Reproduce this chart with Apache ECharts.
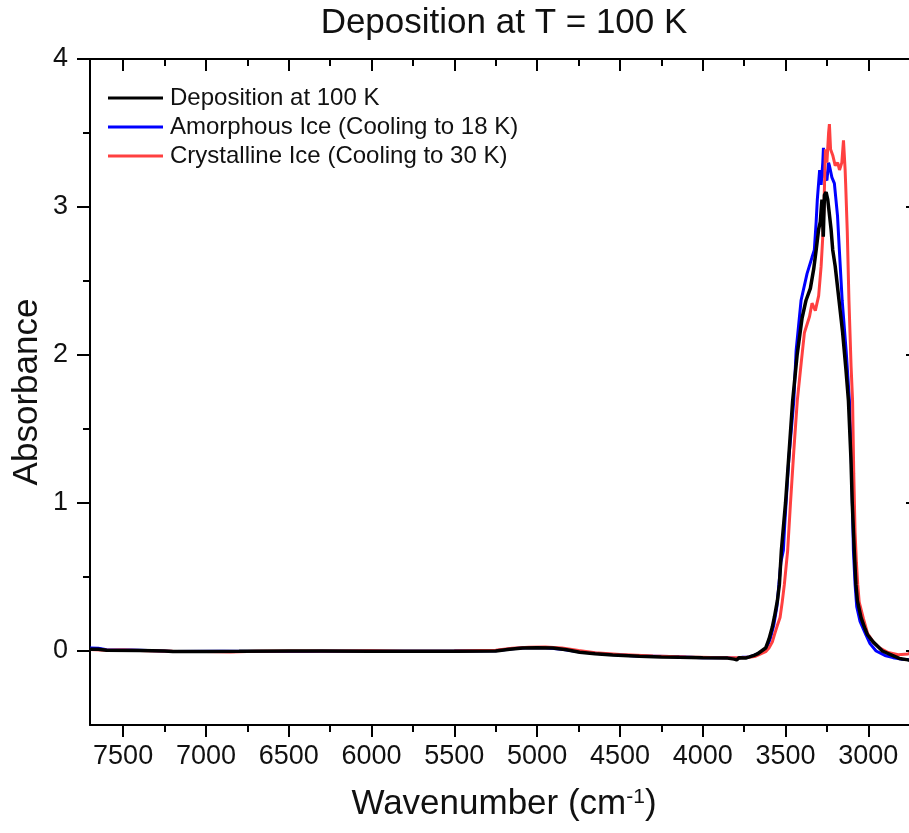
<!DOCTYPE html>
<html>
<head>
<meta charset="utf-8">
<script src="https://cdn.jsdelivr.net/npm/echarts@6/dist/echarts.min.js"></script>
<style>
html,body{margin:0;padding:0;background:#fff;overflow:hidden;}
#chart{width:927px;height:833px;}
</style>
</head>
<body>
<div id="chart"></div>
<script>
// ---- Data ----
const titleText = 'Deposition at T = 100 K';
const seriesNames = ['Deposition at 100 K', 'Amorphous Ice (Cooling to 18 K)', 'Crystalline Ice (Cooling to 30 K)'];
const xMajorTicks = [3000, 3500, 4000, 4500, 5000, 5500, 6000, 6500, 7000, 7500];
const xMinorTicks = [2750, 3250, 3750, 4250, 4750, 5250, 5750, 6250, 6750, 7250];
const yMajorTicks = [0, 1, 2, 3, 4];
const yMinorTicks = [0.5, 1.5, 2.5, 3.5];

const depX = [7700,7650,7600,7400,7250,7200,7000,6800,6500,6300,6000,5800,5500,5250,5166,5088,5000,4905,4822,4743,4650,4544,4382,4250,4141,4000,3850,3810,3795,3780,3740,3718,3690,3670,3645,3620,3600,3580,3567,3549,3537,3525,3500,3475,3457,3430,3400,3376,3350,3330,3315,3300,3290,3280,3272,3265,3255,3245,3235,3225,3215,3200,3190,3170,3155,3135,3120,3105,3097,3085,3075,3066,3044,3020,3005,2970,2933,2915,2855,2813,2760,2700];
const depY = [0.012,0.012,0.005,0.003,0.0,-0.003,-0.003,-0.002,0.0,0.0,-0.002,-0.002,-0.001,0.0,0.012,0.02,0.022,0.02,0.008,-0.008,-0.018,-0.027,-0.035,-0.04,-0.043,-0.046,-0.048,-0.055,-0.06,-0.045,-0.047,-0.04,-0.03,-0.02,0.0,0.02,0.08,0.16,0.23,0.34,0.45,0.68,1.0,1.4,1.69,2.0,2.25,2.37,2.45,2.58,2.71,2.85,2.9,3.05,2.8,3.08,3.1,3.05,2.95,2.85,2.71,2.6,2.5,2.3,2.15,1.9,1.69,1.3,1.0,0.68,0.45,0.34,0.226,0.15,0.11,0.06,0.02,0.0,-0.03,-0.05,-0.06,-0.065];

const amoX = [7700,7650,7600,7450,7300,7200,6900,6600,6400,6300,6000,5500,5250,5150,5050,4950,4850,4750,4600,4400,4200,4000,3850,3790,3760,3720,3690,3660,3635,3610,3590,3570,3552,3540,3528,3513,3505,3480,3450,3436,3406,3370,3340,3326,3315,3308,3294,3285,3275,3271,3262,3250,3240,3235,3220,3205,3186,3175,3158,3134,3114,3100,3090,3080,3070,3050,3015,2990,2953,2900,2850,2800,2700];
const amoY = [0.02,0.018,0.008,0.006,0.002,-0.003,-0.002,-0.003,-0.004,-0.001,-0.001,0.0,0.002,0.015,0.024,0.022,0.012,-0.005,-0.02,-0.033,-0.038,-0.045,-0.046,-0.05,-0.042,-0.04,-0.03,-0.015,0.0,0.03,0.09,0.18,0.3,0.45,0.6,0.68,0.85,1.3,1.69,2.03,2.37,2.55,2.66,2.71,2.9,3.05,3.25,3.15,3.3,3.4,3.2,3.18,3.3,3.28,3.2,3.16,2.94,2.71,2.37,2.03,1.69,1.2,0.68,0.45,0.3,0.2,0.11,0.05,0.0,-0.03,-0.045,-0.055,-0.06];

const cryX = [7700,7600,7500,7350,7200,7000,6850,6700,6500,6200,6000,5800,5500,5250,5150,5050,4950,4850,4750,4650,4500,4300,4100,3950,3850,3780,3720,3680,3650,3620,3600,3580,3567,3550,3533,3520,3507,3487,3470,3450,3429,3405,3386,3355,3340,3320,3300,3285,3276,3268,3259,3250,3240,3235,3228,3215,3200,3185,3174,3160,3150,3145,3140,3137,3127,3117,3104,3095,3088,3080,3072,3064,3055,3030,3005,2970,2930,2880,2820,2760,2740,2700];
const cryY = [0.01,0.005,0.006,0.002,-0.002,-0.004,-0.006,-0.002,0.0,0.0,0.002,-0.001,0.0,0.005,0.018,0.026,0.027,0.02,0.003,-0.012,-0.024,-0.033,-0.04,-0.044,-0.045,-0.045,-0.043,-0.035,-0.02,-0.005,0.02,0.06,0.11,0.17,0.226,0.33,0.45,0.68,1.0,1.35,1.69,1.95,2.15,2.26,2.35,2.3,2.4,2.6,2.78,3.0,3.39,3.3,3.5,3.56,3.39,3.35,3.28,3.3,3.25,3.3,3.45,3.45,3.25,3.16,2.83,2.37,1.92,1.69,1.2,0.8,0.6,0.45,0.33,0.22,0.12,0.06,0.02,-0.01,-0.025,-0.02,-0.01,-0.01];

const pairs = (xs, ys) => xs.map((x, i) => [x, ys[i]]);

const FONT = 'Liberation Sans';
const X_MIN = 2700, X_MAX = 7700, Y_MIN = -0.5, Y_MAX = 4;
const plainNum = v => String(v);

function xAxisDef(position, ticks, len, inside, showLine, showLabel) {
  return {
    type: 'value', gridIndex: 0, position: position, min: X_MIN, max: X_MAX, inverse: true,
    axisLine: { show: showLine, onZero: false, lineStyle: { color: '#000', width: 2 } },
    axisTick: { show: true, inside: inside, length: len, customValues: ticks, lineStyle: { color: '#000', width: 2 } },
    axisLabel: showLabel ? { show: true, customValues: ticks, formatter: plainNum, fontSize: 27, fontFamily: FONT, color: '#111', margin: 18 } : { show: false },
    splitLine: { show: false }
  };
}
function yAxisDef(position, ticks, len, inside, showLine, showLabel) {
  return {
    type: 'value', gridIndex: 0, position: position, min: Y_MIN, max: Y_MAX,
    axisLine: { show: showLine, onZero: false, lineStyle: { color: '#000', width: 2 } },
    axisTick: { show: true, inside: inside, length: len, customValues: ticks, lineStyle: { color: '#000', width: 2 } },
    axisLabel: showLabel ? { show: true, customValues: ticks, formatter: plainNum, fontSize: 27, fontFamily: FONT, color: '#111', margin: 22 } : { show: false },
    splitLine: { show: false }
  };
}

const xMain = xAxisDef('bottom', xMajorTicks, 12, false, true, true);
xMain.name = 'Wavenumber (cm{sup|-1})';
xMain.nameLocation = 'middle';
xMain.nameGap = 62;
xMain.nameTextStyle = { fontSize: 35, fontFamily: FONT, color: '#111', rich: { sup: { fontSize: 21, fontFamily: FONT, color: '#111', verticalAlign: 'top', padding: [0, 0, 10, 0] } } };

const yMain = yAxisDef('left', yMajorTicks, 13, false, true, true);
yMain.name = 'Absorbance';
yMain.nameLocation = 'middle';
yMain.nameGap = 45;
yMain.nameMoveOverlap = false;
yMain.nameTextStyle = { fontSize: 35, fontFamily: FONT, color: '#111' };

const chart = echarts.init(document.getElementById('chart'), null, { renderer: 'canvas' });
chart.setOption({
  animation: false,
  backgroundColor: '#fff',
  title: {
    text: titleText, left: 504, top: 6, textAlign: 'center', padding: 0,
    textStyle: { fontSize: 35, fontWeight: 'normal', fontFamily: FONT, color: '#111' }
  },
  legend: {
    orient: 'vertical', left: 108, top: 86, icon: 'rect', itemWidth: 55, itemHeight: 3, itemGap: 5, padding: 0,
    data: seriesNames,
    textStyle: { fontSize: 24, fontFamily: FONT, color: '#111', lineHeight: 24, padding: [0, 0, 0, 2] }
  },
  grid: { left: 90, right: 9, top: 59, bottom: 108, containLabel: false },
  xAxis: [
    xMain,
    xAxisDef('bottom', xMinorTicks, 7, false, false, false),
    xAxisDef('top', xMajorTicks, 12, true, true, false),
    xAxisDef('top', xMinorTicks, 7, true, false, false)
  ],
  yAxis: [
    yMain,
    yAxisDef('left', yMinorTicks, 7, false, false, false),
    yAxisDef('right', yMajorTicks, 12, true, true, false),
    yAxisDef('right', yMinorTicks, 7, true, false, false)
  ],
  series: [
    { name: seriesNames[0], type: 'line', xAxisIndex: 0, yAxisIndex: 0, data: pairs(depX, depY), symbol: 'none', z: 5,
      lineStyle: { color: '#000000', width: 3.5 }, itemStyle: { color: '#000000' } },
    { name: seriesNames[1], type: 'line', xAxisIndex: 0, yAxisIndex: 0, data: pairs(amoX, amoY), symbol: 'none', z: 3,
      lineStyle: { color: '#0000ff', width: 3 }, itemStyle: { color: '#0000ff' } },
    { name: seriesNames[2], type: 'line', xAxisIndex: 0, yAxisIndex: 0, data: pairs(cryX, cryY), symbol: 'none', z: 4,
      lineStyle: { color: '#ff4040', width: 3 }, itemStyle: { color: '#ff4040' } }
  ]
});
</script>
</body>
</html>
